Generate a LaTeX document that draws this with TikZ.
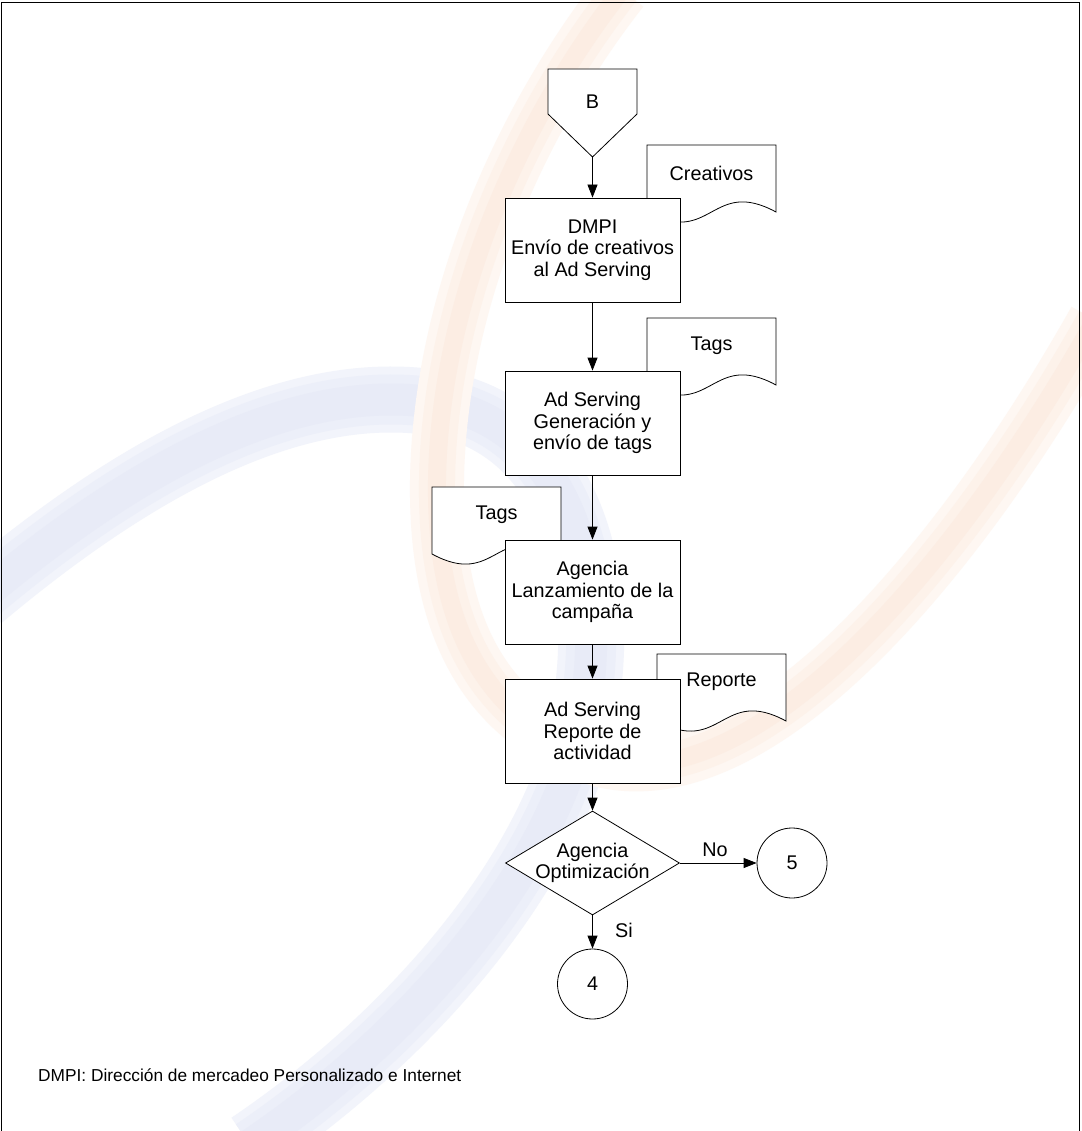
\documentclass[tikz,border=0pt]{standalone}
\usepackage{fontspec}
\setmainfont{Liberation Sans}
\usetikzlibrary{arrows.meta,shapes.geometric}
\definecolor{blueA}{RGB}{242,244,251}
\definecolor{blueB}{RGB}{236,239,249}
\definecolor{blueC}{RGB}{232,235,247}
\definecolor{peachA}{RGB}{254,247,242}
\definecolor{peachB}{RGB}{253,242,234}
\definecolor{peachC}{RGB}{252,237,227}

% document sheet with a wavy lower edge; #1,#2 = upper left corner
\newcommand{\docsheet}[2]{%
  \begin{scope}[shift={(#1,#2)}]
    \draw[sheet] (0,0) -- (129,0) -- (129,67)
      .. controls (64.5,32) and (64.5,102) .. (0,67) -- cycle;
  \end{scope}}

% centre lines of the two background swooshes
\newcommand{\blueswoosh}{(-20,598) .. controls (150,455) and (300,385) .. (430,402)
  .. controls (560,420) and (610,560) .. (585,710)
  .. controls (560,860) and (420,1030) .. (250,1145)}
\newcommand{\peachswoosh}{(622,-10) .. controls (520,120) and (440,300) .. (437,480)
  .. controls (435,620) and (480,720) .. (600,760)
  .. controls (760,800) and (960,560) .. (1095,320)}

\begin{document}
\begin{tikzpicture}[x=1pt,y=-1pt,
  every node/.style={font=\fontsize{19.8}{21.7}\selectfont},
  sheet/.style={draw, fill=white, line width=0.8pt},
  procbox/.style={draw, fill=white, line width=0.8pt, minimum width=175pt,
    minimum height=104pt, inner sep=0pt, align=center},
  decision/.style={draw, fill=white, line width=0.8pt, diamond,
    minimum width=174pt, minimum height=104pt, inner sep=0pt},
  terminal/.style={draw, fill=white, line width=0.8pt, circle,
    minimum size=70pt, inner sep=0pt},
  flow/.style={line width=0.8pt, -{Triangle[length=13pt,width=10pt]}},
  edgelabel/.style={inner sep=0pt},
]
\useasboundingbox (0,0) rectangle (1081,1131);
\fill[white] (0,0) rectangle (1081,1131);

% faint background swooshes, soft edged
\draw[blueA, line width=66pt] \blueswoosh;
\draw[blueB, line width=50pt] \blueswoosh;
\draw[blueC, line width=32pt] \blueswoosh;
\draw[peachA, line width=54pt] \peachswoosh;
\draw[peachB, line width=36pt] \peachswoosh;
\draw[peachC, line width=18pt] \peachswoosh;

% page frame
\draw[line width=1pt] (1.5,1131) -- (1.5,3) -- (1079.5,3) -- (1079.5,1131);

% documents attached to the steps
\docsheet{647}{145}
\node (creativos) at (711.5,173) {Creativos};
\docsheet{647}{318}
\node (tagsout) at (711.5,346) {Tags};
\docsheet{432}{487}
\node (tagsin) at (496.5,515) {Tags};
\docsheet{657}{654}
\node (reporte) at (721.5,682) {Reporte};

% off-page connector
\draw[sheet] (548,69) -- (637,69) -- (637,114) -- (592.5,157) -- (548,114) -- cycle;
\node (conB) at (592.5,102) {B};
\coordinate (Btip) at (592.5,157);

% process steps
\node[procbox] (step1) at (592.5,250) {DMPI\\Envío de creativos\\al Ad Serving};
\node[procbox] (step2) at (592.5,423) {Ad Serving\\Generación y\\envío de tags};
\node[procbox] (step3) at (592.5,592) {Agencia\\Lanzamiento de la\\campaña};
\node[procbox] (step4) at (592.5,731) {Ad Serving\\Reporte de\\actividad};

% decision and exits
\node[decision] (dec) at (592.5,863) {};
\node[align=center] (dectext) at (dec.center) {Agencia\\Optimización};
\node[terminal] (c5) at (792,863) {5};
\node[terminal] (c4) at (592.5,984) {4};

% flow
\draw[flow] (Btip) -- (step1.north);
\draw[flow] (step1.south) -- (step2.north);
\draw[flow] (step2.south) -- (step3.north);
\draw[flow] (step3.south) -- (step4.north);
\draw[flow] (step4.south) -- (dec.north);
\draw[flow] (dec.east) -- (c5.west);
\draw[flow] (dec.south) -- (c4.north);
\node[edgelabel] (lblNo) at (715,850) {No};
\node[edgelabel] (lblSi) at (624,930) {Si};

% footnote
\node[anchor=west, inner sep=0pt, font=\fontsize{17.3}{20}\selectfont] (note)
  at (38,1075) {DMPI: Dirección de mercadeo Personalizado e Internet};
\end{tikzpicture}
\end{document}
